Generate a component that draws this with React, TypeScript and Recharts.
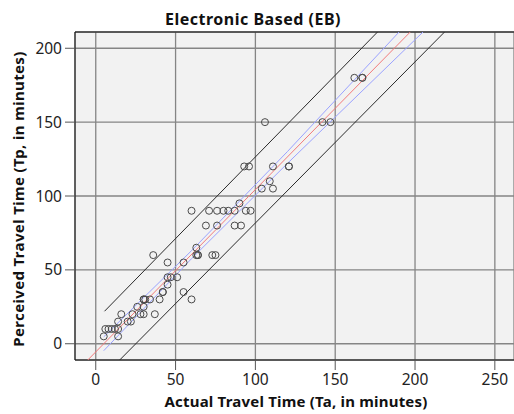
import React from 'react';
import {
  ScatterChart,
  Scatter,
  XAxis,
  YAxis,
  CartesianGrid,
  ReferenceLine,
} from 'recharts';

// Observed trips: actual vs perceived travel time (minutes)
const actualMinutes = [
  5, 14,
  6, 8, 10, 12, 14,
  14, 20, 22,
  16, 23, 28, 30, 37,
  26, 30,
  30, 30, 31, 34, 40, 60,
  42, 42, 55,
  45,
  45, 47, 51,
  45, 55,
  36, 63, 64, 64, 73, 75,
  63,
  69, 76, 87, 91,
  60, 71, 76, 80, 83, 87, 94, 97,
  90,
  104, 111,
  109,
  93, 96, 111, 121, 121,
  106, 142, 147,
  162, 167, 167,
];
const perceivedMinutes = [
  5, 5,
  10, 10, 10, 10, 10,
  15, 15, 15,
  20, 20, 20, 20, 20,
  25, 25,
  30, 30, 30, 30, 30, 30,
  35, 35, 35,
  40,
  45, 45, 45,
  55, 55,
  60, 60, 60, 60, 60, 60,
  65,
  80, 80, 80, 80,
  90, 90, 90, 90, 90, 90, 90, 90,
  95,
  105, 105,
  110,
  120, 120, 120, 120, 120,
  150, 150, 150,
  180, 180, 180,
];

// Linear fit, 95% mean confidence band and 95% prediction band
const fitX = [-5, 197];
const fitY = [-11, 211];
const meanUpperX = [5, 60, 120, 190];
const meanUpperY = [4.7, 63, 130, 211];
const meanLowerX = [5, 60, 120, 205];
const meanLowerY = [-4.7, 57.6, 122, 211];
const predUpperX = [5.5, 176.5];
const predUpperY = [22, 211];
const predLowerX = [15, 218.5];
const predLowerY = [-11, 211];

const xTicks = [0, 50, 100, 150, 200, 250];
const yTicks = [0, 50, 100, 150, 200];

const toPoints = (xs: number[], ys: number[]) => xs.map((x, i) => ({ x, y: ys[i] }));

const observations = toPoints(actualMinutes, perceivedMinutes);
const fitLine = toPoints(fitX, fitY);
const meanUpper = toPoints(meanUpperX, meanUpperY);
const meanLower = toPoints(meanLowerX, meanLowerY);
const predUpper = toPoints(predUpperX, predUpperY);
const predLower = toPoints(predLowerX, predLowerY);

const FONT = '"Noto Sans", "DejaVu Sans", sans-serif';
const tickStyle = { fontSize: 15.5, fill: '#222', fontFamily: FONT };

const OpenCircle = (props: any) => {
  const { cx, cy } = props;
  return <circle cx={cx} cy={cy} r={3.5} fill="none" stroke="#4a4a4a" strokeWidth={1} />;
};
const NoMark = () => <g />;

const bandLine = (data: { x: number; y: number }[], color: string, key: string) => (
  <Scatter
    key={key}
    data={data}
    line={{ stroke: color, strokeWidth: 1 }}
    stroke={color}
    fill="none"
    shape={NoMark}
    isAnimationActive={false}
    legendType="none"
  />
);

export default function App() {
  return (
    <div style={{ position: 'absolute', left: 0, top: 0, width: 514, height: 414, background: '#fff' }}>
      <ScatterChart width={514} height={414} margin={{ top: 32, right: 0, bottom: 24, left: 0 }}>
        <CartesianGrid fill="#f2f2f2" stroke="#858585" strokeWidth={1.3} />
        <XAxis
          type="number"
          dataKey="x"
          domain={[-13, 262]}
          ticks={xTicks}
          allowDataOverflow
          height={30}
          tickSize={10}
          tickMargin={4}
          tick={tickStyle}
          axisLine={{ stroke: '#111' }}
          tickLine={{ stroke: '#555' }}
        />
        <YAxis
          type="number"
          dataKey="y"
          domain={[-11, 211]}
          ticks={yTicks}
          allowDataOverflow
          width={75}
          tickSize={10}
          tickMargin={3}
          tick={tickStyle}
          axisLine={{ stroke: '#111' }}
          tickLine={{ stroke: '#555' }}
        />
        <ReferenceLine y={211} stroke="#111" />
        {bandLine(predUpper, '#2a2a2a', 'pu')}
        {bandLine(predLower, '#2a2a2a', 'pl')}
        {bandLine(meanUpper, '#9aa2ff', 'mu')}
        {bandLine(meanLower, '#9aa2ff', 'ml')}
        {bandLine(fitLine, '#f27a7a', 'fit')}
        <Scatter data={observations} shape={OpenCircle} isAnimationActive={false} legendType="none" />
      </ScatterChart>
      <svg
        width={514}
        height={414}
        style={{ position: 'absolute', left: 0, top: 0, pointerEvents: 'none' }}
      >
        <text
          x={253}
          y={24.5}
          textAnchor="middle"
          fontFamily={FONT}
          fontWeight="bold"
          fontSize={16}
          letterSpacing={0.5}
          fill="#111"
        >
          Electronic Based (EB)
        </text>
        <text
          x={296}
          y={406.5}
          textAnchor="middle"
          fontFamily={FONT}
          fontWeight="bold"
          fontSize={15}
          letterSpacing={0.2}
          fill="#111"
        >
          Actual Travel Time (Ta, in minutes)
        </text>
        <text
          x={0}
          y={0}
          transform="translate(23.5 199) rotate(-90)"
          textAnchor="middle"
          fontFamily={FONT}
          fontWeight="bold"
          fontSize={15}
          letterSpacing={0.35}
          fill="#111"
        >
          Perceived Travel Time (Tp, in minutes)
        </text>
      </svg>
    </div>
  );
}
